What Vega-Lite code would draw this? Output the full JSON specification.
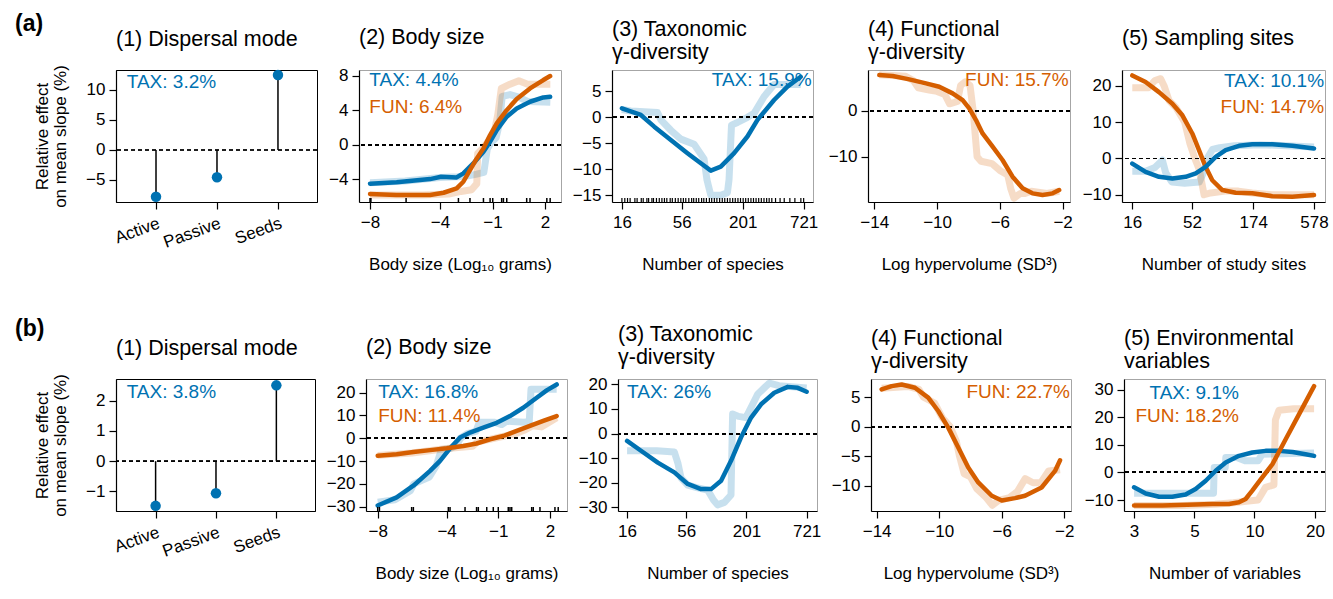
{
"$schema": "https://vega.github.io/schema/vega-lite/v6.json",
"padding": {"left": 15, "top": 13, "right": 5, "bottom": 5},
"datasets": {
"d1a": [{"x":1,"y":-7.8},{"x":2,"y":-4.55},{"x":3,"y":12.5}],
"d1b": [{"x":1,"y":-1.48},{"x":2,"y":-1.06},{"x":3,"y":2.51}],
"d2a": [
{"x":-8,"y":-4.5,"s":"TAX","t":"s"},{"x":-6.48,"y":-4.35,"s":"TAX","t":"s"},{"x":-4.57,"y":-3.97,"s":"TAX","t":"s"},{"x":-3.94,"y":-3.7,"s":"TAX","t":"s"},{"x":-3.05,"y":-3.78,"s":"TAX","t":"s"},{"x":-2.67,"y":-3.31,"s":"TAX","t":"s"},{"x":-2.1,"y":-2.16,"s":"TAX","t":"s"},{"x":-1.52,"y":-0.81,"s":"TAX","t":"s"},{"x":-1.14,"y":0.35,"s":"TAX","t":"s"},{"x":-0.76,"y":1.7,"s":"TAX","t":"s"},{"x":-0.19,"y":3.24,"s":"TAX","t":"s"},{"x":0.38,"y":4.2,"s":"TAX","t":"s"},{"x":1.14,"y":4.97,"s":"TAX","t":"s"},{"x":1.9,"y":5.47,"s":"TAX","t":"s"},{"x":2.29,"y":5.55,"s":"TAX","t":"s"},
{"x":-8,"y":-5.7,"s":"FUN","t":"s"},{"x":-6.5,"y":-5.82,"s":"FUN","t":"s"},{"x":-4.57,"y":-5.82,"s":"FUN","t":"s"},{"x":-3.8,"y":-5.55,"s":"FUN","t":"s"},{"x":-3.05,"y":-5.05,"s":"FUN","t":"s"},{"x":-2.67,"y":-4.28,"s":"FUN","t":"s"},{"x":-2.29,"y":-2.93,"s":"FUN","t":"s"},{"x":-1.9,"y":-1.58,"s":"FUN","t":"s"},{"x":-1.52,"y":-0.42,"s":"FUN","t":"s"},{"x":-1.14,"y":1.12,"s":"FUN","t":"s"},{"x":-0.76,"y":2.47,"s":"FUN","t":"s"},{"x":-0.19,"y":4.0,"s":"FUN","t":"s"},{"x":0.38,"y":5.28,"s":"FUN","t":"s"},{"x":1.14,"y":6.51,"s":"FUN","t":"s"},{"x":1.9,"y":7.48,"s":"FUN","t":"s"},{"x":2.29,"y":7.94,"s":"FUN","t":"s"},
{"x":-8,"y":-4.4,"s":"TAX","t":"r"},{"x":-6,"y":-4.2,"s":"TAX","t":"r"},{"x":-4,"y":-3.8,"s":"TAX","t":"r"},{"x":-3,"y":-3.7,"s":"TAX","t":"r"},{"x":-2.4,"y":-3.6,"s":"TAX","t":"r"},{"x":-1.9,"y":-3.4,"s":"TAX","t":"r"},{"x":-1.5,"y":-3.2,"s":"TAX","t":"r"},{"x":-1.3,"y":-0.5,"s":"TAX","t":"r"},{"x":-1.1,"y":0.2,"s":"TAX","t":"r"},{"x":-0.8,"y":0.8,"s":"TAX","t":"r"},{"x":-0.6,"y":2.5,"s":"TAX","t":"r"},{"x":-0.45,"y":5.6,"s":"TAX","t":"r"},{"x":0,"y":5.8,"s":"TAX","t":"r"},{"x":0.5,"y":5.5,"s":"TAX","t":"r"},{"x":1,"y":5.0,"s":"TAX","t":"r"},{"x":2.3,"y":4.9,"s":"TAX","t":"r"},
{"x":-8,"y":-5.8,"s":"FUN","t":"r"},{"x":-5,"y":-5.8,"s":"FUN","t":"r"},{"x":-3.5,"y":-5.7,"s":"FUN","t":"r"},{"x":-2.8,"y":-5.4,"s":"FUN","t":"r"},{"x":-2.2,"y":-5.2,"s":"FUN","t":"r"},{"x":-1.9,"y":-4.5,"s":"FUN","t":"r"},{"x":-1.85,"y":-1.0,"s":"FUN","t":"r"},{"x":-1.6,"y":-0.5,"s":"FUN","t":"r"},{"x":-1.2,"y":0.5,"s":"FUN","t":"r"},{"x":-0.9,"y":1.5,"s":"FUN","t":"r"},{"x":-0.7,"y":3.5,"s":"FUN","t":"r"},{"x":-0.5,"y":6.5,"s":"FUN","t":"r"},{"x":0,"y":7.0,"s":"FUN","t":"r"},{"x":0.5,"y":7.4,"s":"FUN","t":"r"},{"x":1.0,"y":7.0,"s":"FUN","t":"r"},{"x":2.3,"y":7.0,"s":"FUN","t":"r"}
],
"r2a": [{"x":-8},{"x":-7.95},{"x":-5.94},{"x":-2.95},{"x":-2.29},{"x":-1.52},{"x":-1.14},{"x":-0.99},{"x":-0.48},{"x":-0.38},{"x":-0.19},{"x":0.95},{"x":1.14},{"x":2.1},{"x":2.29}],
"d3a": [
{"x":16,"y":1.73,"s":"TAX","t":"s"},{"x":23.8,"y":0.45,"s":"TAX","t":"s"},{"x":31.5,"y":-1.8,"s":"TAX","t":"s"},{"x":44.6,"y":-4.36,"s":"TAX","t":"s"},{"x":63.2,"y":-6.9,"s":"TAX","t":"s"},{"x":83.6,"y":-8.85,"s":"TAX","t":"s"},{"x":103,"y":-10.26,"s":"TAX","t":"s"},{"x":127,"y":-9.5,"s":"TAX","t":"s"},{"x":168,"y":-6.9,"s":"TAX","t":"s"},{"x":222,"y":-3.7,"s":"TAX","t":"s"},{"x":274,"y":-0.5,"s":"TAX","t":"s"},{"x":388,"y":3.33,"s":"TAX","t":"s"},{"x":513,"y":5.9,"s":"TAX","t":"s"},{"x":678,"y":7.8,"s":"TAX","t":"s"},
{"x":16,"y":1.5,"s":"TAX","t":"r"},{"x":19.3,"y":1.2,"s":"TAX","t":"r"},{"x":33.8,"y":0.9,"s":"TAX","t":"r"},{"x":36.2,"y":-0.5,"s":"TAX","t":"r"},{"x":44.6,"y":-2.5,"s":"TAX","t":"r"},{"x":55,"y":-4.2,"s":"TAX","t":"r"},{"x":72.6,"y":-5.2,"s":"TAX","t":"r"},{"x":89.5,"y":-8,"s":"TAX","t":"r"},{"x":95,"y":-12,"s":"TAX","t":"r"},{"x":103,"y":-15,"s":"TAX","t":"r"},{"x":127,"y":-15,"s":"TAX","t":"r"},{"x":146,"y":-14.5,"s":"TAX","t":"r"},{"x":151,"y":-12,"s":"TAX","t":"r"},{"x":159,"y":-1.5,"s":"TAX","t":"r"},{"x":180,"y":-1,"s":"TAX","t":"r"},{"x":222,"y":0,"s":"TAX","t":"r"},{"x":256,"y":0.8,"s":"TAX","t":"r"},{"x":315,"y":4,"s":"TAX","t":"r"},{"x":388,"y":6.3,"s":"TAX","t":"r"},{"x":678,"y":6.3,"s":"TAX","t":"r"}
],
"r3a": [{"x":16},{"x":17},{"x":18},{"x":19},{"x":21},{"x":22},{"x":24},{"x":25},{"x":27},{"x":28},{"x":30},{"x":31},{"x":33},{"x":35},{"x":37},{"x":39},{"x":41},{"x":44},{"x":46},{"x":49},{"x":52},{"x":55},{"x":58},{"x":61},{"x":65},{"x":69},{"x":72},{"x":76},{"x":80},{"x":85},{"x":89},{"x":94},{"x":100},{"x":105},{"x":111},{"x":117},{"x":124},{"x":131},{"x":138},{"x":146},{"x":154},{"x":163},{"x":172},{"x":182},{"x":192},{"x":203},{"x":214},{"x":226},{"x":239},{"x":252},{"x":266},{"x":281},{"x":297},{"x":314},{"x":332},{"x":350},{"x":370},{"x":400},{"x":440},{"x":480},{"x":540},{"x":600},{"x":680},{"x":721}],
"d4a": [
{"x":-13.68,"y":7.75,"s":"FUN","t":"s"},{"x":-12.83,"y":7.54,"s":"FUN","t":"s"},{"x":-11.77,"y":6.81,"s":"FUN","t":"s"},{"x":-10.71,"y":5.94,"s":"FUN","t":"s"},{"x":-9.86,"y":5.22,"s":"FUN","t":"s"},{"x":-9.01,"y":3.77,"s":"FUN","t":"s"},{"x":-8.37,"y":2.32,"s":"FUN","t":"s"},{"x":-7.95,"y":0.51,"s":"FUN","t":"s"},{"x":-7.52,"y":-2.03,"s":"FUN","t":"s"},{"x":-7.1,"y":-4.93,"s":"FUN","t":"s"},{"x":-6.46,"y":-7.83,"s":"FUN","t":"s"},{"x":-5.83,"y":-10.72,"s":"FUN","t":"s"},{"x":-5.19,"y":-14.35,"s":"FUN","t":"s"},{"x":-4.55,"y":-16.88,"s":"FUN","t":"s"},{"x":-3.92,"y":-17.97,"s":"FUN","t":"s"},{"x":-3.28,"y":-18.33,"s":"FUN","t":"s"},{"x":-2.64,"y":-17.97,"s":"FUN","t":"s"},{"x":-2.22,"y":-17.25,"s":"FUN","t":"s"},
{"x":-13.68,"y":7.8,"s":"FUN","t":"r"},{"x":-12,"y":7.5,"s":"FUN","t":"r"},{"x":-11.5,"y":6.5,"s":"FUN","t":"r"},{"x":-11.2,"y":5,"s":"FUN","t":"r"},{"x":-10.5,"y":4.5,"s":"FUN","t":"r"},{"x":-10,"y":4.2,"s":"FUN","t":"r"},{"x":-9.5,"y":3.5,"s":"FUN","t":"r"},{"x":-9.2,"y":1.5,"s":"FUN","t":"r"},{"x":-8.7,"y":2,"s":"FUN","t":"r"},{"x":-8.5,"y":5.5,"s":"FUN","t":"r"},{"x":-8.2,"y":6.3,"s":"FUN","t":"r"},{"x":-7.9,"y":5.5,"s":"FUN","t":"r"},{"x":-7.7,"y":0,"s":"FUN","t":"r"},{"x":-7.45,"y":-10,"s":"FUN","t":"r"},{"x":-7.2,"y":-11,"s":"FUN","t":"r"},{"x":-6.5,"y":-11.5,"s":"FUN","t":"r"},{"x":-6,"y":-13,"s":"FUN","t":"r"},{"x":-5.5,"y":-14,"s":"FUN","t":"r"},{"x":-5.3,"y":-17,"s":"FUN","t":"r"},{"x":-5.1,"y":-19,"s":"FUN","t":"r"},{"x":-4.7,"y":-18,"s":"FUN","t":"r"},{"x":-4.4,"y":-18,"s":"FUN","t":"r"},{"x":-4,"y":-17.5,"s":"FUN","t":"r"},{"x":-3,"y":-18,"s":"FUN","t":"r"},{"x":-2.22,"y":-17.5,"s":"FUN","t":"r"}
],
"d5a": [
{"x":16,"y":22.9,"s":"FUN","t":"s"},{"x":20.8,"y":21.1,"s":"FUN","t":"s"},{"x":27.1,"y":18.3,"s":"FUN","t":"s"},{"x":35.3,"y":15.1,"s":"FUN","t":"s"},{"x":43,"y":11.9,"s":"FUN","t":"s"},{"x":52.3,"y":6.9,"s":"FUN","t":"s"},{"x":59.7,"y":2.3,"s":"FUN","t":"s"},{"x":68,"y":-2.3,"s":"FUN","t":"s"},{"x":77.6,"y":-6,"s":"FUN","t":"s"},{"x":94.6,"y":-8.7,"s":"FUN","t":"s"},{"x":123,"y":-9.45,"s":"FUN","t":"s"},{"x":171,"y":-9.6,"s":"FUN","t":"s"},{"x":254,"y":-10.4,"s":"FUN","t":"s"},{"x":377,"y":-10.55,"s":"FUN","t":"s"},{"x":578,"y":-10.1,"s":"FUN","t":"s"},
{"x":16,"y":-1.4,"s":"TAX","t":"s"},{"x":20.8,"y":-3.7,"s":"TAX","t":"s"},{"x":27.1,"y":-5.05,"s":"TAX","t":"s"},{"x":35.3,"y":-5.5,"s":"TAX","t":"s"},{"x":45.9,"y":-5.05,"s":"TAX","t":"s"},{"x":56,"y":-4.1,"s":"TAX","t":"s"},{"x":68,"y":-2.3,"s":"TAX","t":"s"},{"x":83,"y":0.46,"s":"TAX","t":"s"},{"x":101,"y":2.3,"s":"TAX","t":"s"},{"x":131.6,"y":3.5,"s":"TAX","t":"s"},{"x":171,"y":3.95,"s":"TAX","t":"s"},{"x":254,"y":3.95,"s":"TAX","t":"s"},{"x":377,"y":3.5,"s":"TAX","t":"s"},{"x":578,"y":2.75,"s":"TAX","t":"s"},
{"x":16,"y":-3.5,"s":"TAX","t":"r"},{"x":20.8,"y":-3.5,"s":"TAX","t":"r"},{"x":25,"y":-2.5,"s":"TAX","t":"r"},{"x":29,"y":-0.5,"s":"TAX","t":"r"},{"x":31,"y":-4,"s":"TAX","t":"r"},{"x":35,"y":-6.5,"s":"TAX","t":"r"},{"x":45,"y":-6.8,"s":"TAX","t":"r"},{"x":60,"y":-6.5,"s":"TAX","t":"r"},{"x":66,"y":-3.5,"s":"TAX","t":"r"},{"x":70,"y":0,"s":"TAX","t":"r"},{"x":78,"y":2.5,"s":"TAX","t":"r"},{"x":90,"y":3,"s":"TAX","t":"r"},{"x":120,"y":3.5,"s":"TAX","t":"r"},{"x":200,"y":3.8,"s":"TAX","t":"r"},{"x":578,"y":3.2,"s":"TAX","t":"r"},
{"x":16,"y":19.5,"s":"FUN","t":"r"},{"x":22,"y":19.5,"s":"FUN","t":"r"},{"x":25,"y":21.5,"s":"FUN","t":"r"},{"x":28,"y":22,"s":"FUN","t":"r"},{"x":30,"y":20,"s":"FUN","t":"r"},{"x":33,"y":16,"s":"FUN","t":"r"},{"x":38,"y":14,"s":"FUN","t":"r"},{"x":45,"y":10,"s":"FUN","t":"r"},{"x":50,"y":4,"s":"FUN","t":"r"},{"x":55,"y":0,"s":"FUN","t":"r"},{"x":60,"y":-3,"s":"FUN","t":"r"},{"x":66,"y":-10,"s":"FUN","t":"r"},{"x":75,"y":-9.5,"s":"FUN","t":"r"},{"x":100,"y":-9,"s":"FUN","t":"r"},{"x":130,"y":-9,"s":"FUN","t":"r"},{"x":170,"y":-9.5,"s":"FUN","t":"r"},{"x":250,"y":-10,"s":"FUN","t":"r"},{"x":578,"y":-10,"s":"FUN","t":"r"}
],
"d2b": [
{"x":-8,"y":-29.5,"s":"TAX","t":"s"},{"x":-6.9,"y":-25.9,"s":"TAX","t":"s"},{"x":-5.93,"y":-20.8,"s":"TAX","t":"s"},{"x":-4.96,"y":-14.3,"s":"TAX","t":"s"},{"x":-4.38,"y":-9.9,"s":"TAX","t":"s"},{"x":-3.8,"y":-4.4,"s":"TAX","t":"s"},{"x":-3.22,"y":0.3,"s":"TAX","t":"s"},{"x":-2.64,"y":2.5,"s":"TAX","t":"s"},{"x":-1.87,"y":4.7,"s":"TAX","t":"s"},{"x":-1.09,"y":6.8,"s":"TAX","t":"s"},{"x":-0.32,"y":9.75,"s":"TAX","t":"s"},{"x":0.45,"y":13.4,"s":"TAX","t":"s"},{"x":1.23,"y":17.8,"s":"TAX","t":"s"},{"x":1.81,"y":21,"s":"TAX","t":"s"},{"x":2.39,"y":23.6,"s":"TAX","t":"s"},
{"x":-8,"y":-7.7,"s":"FUN","t":"s"},{"x":-6.9,"y":-7,"s":"FUN","t":"s"},{"x":-5.93,"y":-6,"s":"FUN","t":"s"},{"x":-4.96,"y":-5.2,"s":"FUN","t":"s"},{"x":-3.99,"y":-4.4,"s":"FUN","t":"s"},{"x":-3.03,"y":-3.35,"s":"FUN","t":"s"},{"x":-2.26,"y":-2.3,"s":"FUN","t":"s"},{"x":-1.48,"y":-0.44,"s":"FUN","t":"s"},{"x":-0.71,"y":1.0,"s":"FUN","t":"s"},{"x":0.07,"y":3.2,"s":"FUN","t":"s"},{"x":0.84,"y":5.4,"s":"FUN","t":"s"},{"x":1.61,"y":7.6,"s":"FUN","t":"s"},{"x":2.39,"y":9.75,"s":"FUN","t":"s"},
{"x":-8,"y":-28,"s":"TAX","t":"r"},{"x":-7,"y":-27,"s":"TAX","t":"r"},{"x":-6.1,"y":-23,"s":"TAX","t":"r"},{"x":-5.9,"y":-20,"s":"TAX","t":"r"},{"x":-5,"y":-17,"s":"TAX","t":"r"},{"x":-4.6,"y":-12,"s":"TAX","t":"r"},{"x":-4.3,"y":-5,"s":"TAX","t":"r"},{"x":-3.8,"y":-4.5,"s":"TAX","t":"r"},{"x":-3.4,"y":-3,"s":"TAX","t":"r"},{"x":-3.2,"y":0,"s":"TAX","t":"r"},{"x":-2.8,"y":2,"s":"TAX","t":"r"},{"x":-2.3,"y":3,"s":"TAX","t":"r"},{"x":-2.1,"y":7,"s":"TAX","t":"r"},{"x":-1.2,"y":7,"s":"TAX","t":"r"},{"x":-0.8,"y":6,"s":"TAX","t":"r"},{"x":-0.5,"y":7.5,"s":"TAX","t":"r"},{"x":0.5,"y":7,"s":"TAX","t":"r"},{"x":0.8,"y":7.5,"s":"TAX","t":"r"},{"x":0.9,"y":21.5,"s":"TAX","t":"r"},{"x":2.39,"y":21.5,"s":"TAX","t":"r"},
{"x":-8,"y":-7.5,"s":"FUN","t":"r"},{"x":-6,"y":-6.5,"s":"FUN","t":"r"},{"x":-4,"y":-4.5,"s":"FUN","t":"r"},{"x":-2.5,"y":-3.5,"s":"FUN","t":"r"},{"x":-2.2,"y":-1.5,"s":"FUN","t":"r"},{"x":-1.5,"y":-0.5,"s":"FUN","t":"r"},{"x":0,"y":2,"s":"FUN","t":"r"},{"x":0.5,"y":3.5,"s":"FUN","t":"r"},{"x":1,"y":5.5,"s":"FUN","t":"r"},{"x":1.5,"y":5,"s":"FUN","t":"r"},{"x":2.39,"y":9,"s":"FUN","t":"r"}
],
"r2b": [{"x":-8},{"x":-7.9},{"x":-6.03},{"x":-5.93},{"x":-3.9},{"x":-3.8},{"x":-2.93},{"x":-2.26},{"x":-2.16},{"x":-1.67},{"x":-1.29},{"x":-1.0},{"x":-0.42},{"x":-0.32},{"x":-0.22},{"x":0.94},{"x":1.03},{"x":1.42},{"x":2.29},{"x":2.48}],
"d3b": [
{"x":16,"y":-3,"s":"TAX","t":"s"},{"x":21.5,"y":-7,"s":"TAX","t":"s"},{"x":30.7,"y":-11.8,"s":"TAX","t":"s"},{"x":43.6,"y":-15.8,"s":"TAX","t":"s"},{"x":57.9,"y":-20.5,"s":"TAX","t":"s"},{"x":76.8,"y":-22.6,"s":"TAX","t":"s"},{"x":95,"y":-22.6,"s":"TAX","t":"s"},{"x":117.5,"y":-19.2,"s":"TAX","t":"s"},{"x":145,"y":-11.1,"s":"TAX","t":"s"},{"x":179,"y":-1.6,"s":"TAX","t":"s"},{"x":222,"y":6.5,"s":"TAX","t":"s"},{"x":274,"y":11.9,"s":"TAX","t":"s"},{"x":363,"y":16.6,"s":"TAX","t":"s"},{"x":483,"y":19,"s":"TAX","t":"s"},{"x":597,"y":18.6,"s":"TAX","t":"s"},{"x":721,"y":17,"s":"TAX","t":"s"},
{"x":16,"y":-7,"s":"TAX","t":"r"},{"x":30,"y":-7,"s":"TAX","t":"r"},{"x":43.6,"y":-7.5,"s":"TAX","t":"r"},{"x":47,"y":-12,"s":"TAX","t":"r"},{"x":50.2,"y":-18,"s":"TAX","t":"r"},{"x":57.9,"y":-21,"s":"TAX","t":"r"},{"x":70,"y":-22,"s":"TAX","t":"r"},{"x":88.5,"y":-23,"s":"TAX","t":"r"},{"x":100,"y":-27,"s":"TAX","t":"r"},{"x":109,"y":-29,"s":"TAX","t":"r"},{"x":126,"y":-28,"s":"TAX","t":"r"},{"x":145,"y":-25,"s":"TAX","t":"r"},{"x":150,"y":8,"s":"TAX","t":"r"},{"x":170,"y":7,"s":"TAX","t":"r"},{"x":199,"y":6.5,"s":"TAX","t":"r"},{"x":230,"y":12,"s":"TAX","t":"r"},{"x":255,"y":16,"s":"TAX","t":"r"},{"x":300,"y":19,"s":"TAX","t":"r"},{"x":327,"y":20.5,"s":"TAX","t":"r"},{"x":400,"y":19.5,"s":"TAX","t":"r"},{"x":721,"y":18.5,"s":"TAX","t":"r"}
],
"d4b": [
{"x":-13.68,"y":6.3,"s":"FUN","t":"s"},{"x":-13.04,"y":6.85,"s":"FUN","t":"s"},{"x":-12.4,"y":7.13,"s":"FUN","t":"s"},{"x":-11.55,"y":6.57,"s":"FUN","t":"s"},{"x":-10.7,"y":4.9,"s":"FUN","t":"s"},{"x":-10.06,"y":2.64,"s":"FUN","t":"s"},{"x":-9.42,"y":-0.17,"s":"FUN","t":"s"},{"x":-8.78,"y":-3.54,"s":"FUN","t":"s"},{"x":-8.14,"y":-6.9,"s":"FUN","t":"s"},{"x":-7.5,"y":-9.44,"s":"FUN","t":"s"},{"x":-6.64,"y":-11.7,"s":"FUN","t":"s"},{"x":-6.0,"y":-12.5,"s":"FUN","t":"s"},{"x":-5.15,"y":-12.1,"s":"FUN","t":"s"},{"x":-4.51,"y":-11.7,"s":"FUN","t":"s"},{"x":-3.45,"y":-10.3,"s":"FUN","t":"s"},{"x":-2.59,"y":-7.5,"s":"FUN","t":"s"},{"x":-2.27,"y":-5.7,"s":"FUN","t":"s"},
{"x":-13.68,"y":6.5,"s":"FUN","t":"r"},{"x":-12,"y":6.8,"s":"FUN","t":"r"},{"x":-11.3,"y":6.3,"s":"FUN","t":"r"},{"x":-11,"y":5,"s":"FUN","t":"r"},{"x":-10.3,"y":4,"s":"FUN","t":"r"},{"x":-9.8,"y":1.5,"s":"FUN","t":"r"},{"x":-9.3,"y":0,"s":"FUN","t":"r"},{"x":-8.9,"y":-2.5,"s":"FUN","t":"r"},{"x":-8.7,"y":-5,"s":"FUN","t":"r"},{"x":-8.4,"y":-8,"s":"FUN","t":"r"},{"x":-8,"y":-8.5,"s":"FUN","t":"r"},{"x":-7.6,"y":-10.5,"s":"FUN","t":"r"},{"x":-7,"y":-12,"s":"FUN","t":"r"},{"x":-6.6,"y":-13.3,"s":"FUN","t":"r"},{"x":-6.2,"y":-12.5,"s":"FUN","t":"r"},{"x":-5.5,"y":-12,"s":"FUN","t":"r"},{"x":-5,"y":-11,"s":"FUN","t":"r"},{"x":-4.5,"y":-8.8,"s":"FUN","t":"r"},{"x":-4,"y":-9.5,"s":"FUN","t":"r"},{"x":-3.5,"y":-9.5,"s":"FUN","t":"r"},{"x":-3,"y":-7.5,"s":"FUN","t":"r"},{"x":-2.27,"y":-7.3,"s":"FUN","t":"r"}
],
"d5b": [
{"x":3,"y":-5.4,"s":"TAX","t":"s"},{"x":3.39,"y":-7.6,"s":"TAX","t":"s"},{"x":3.9,"y":-8.8,"s":"TAX","t":"s"},{"x":4.48,"y":-8.8,"s":"TAX","t":"s"},{"x":5.15,"y":-8,"s":"TAX","t":"s"},{"x":5.72,"y":-6,"s":"TAX","t":"s"},{"x":6.36,"y":-3,"s":"TAX","t":"s"},{"x":7.06,"y":0.6,"s":"TAX","t":"s"},{"x":7.84,"y":3.6,"s":"TAX","t":"s"},{"x":9.01,"y":6,"s":"TAX","t":"s"},{"x":10.36,"y":7.2,"s":"TAX","t":"s"},{"x":11.9,"y":7.8,"s":"TAX","t":"s"},{"x":13.7,"y":7.8,"s":"TAX","t":"s"},{"x":15.8,"y":7.4,"s":"TAX","t":"s"},{"x":18.1,"y":6.6,"s":"TAX","t":"s"},{"x":19.8,"y":6,"s":"TAX","t":"s"},
{"x":3,"y":-12,"s":"FUN","t":"s"},{"x":4.04,"y":-12,"s":"FUN","t":"s"},{"x":5.72,"y":-11.6,"s":"FUN","t":"s"},{"x":6.81,"y":-11.4,"s":"FUN","t":"s"},{"x":8.11,"y":-11.4,"s":"FUN","t":"s"},{"x":9.01,"y":-10.8,"s":"FUN","t":"s"},{"x":9.66,"y":-9.6,"s":"FUN","t":"s"},{"x":10.36,"y":-6.6,"s":"FUN","t":"s"},{"x":11.5,"y":-1.8,"s":"FUN","t":"s"},{"x":12.8,"y":3,"s":"FUN","t":"s"},{"x":14.7,"y":12,"s":"FUN","t":"s"},{"x":16.9,"y":21,"s":"FUN","t":"s"},{"x":19.8,"y":31.2,"s":"FUN","t":"s"},
{"x":3,"y":-7.5,"s":"TAX","t":"r"},{"x":4,"y":-7.5,"s":"TAX","t":"r"},{"x":5,"y":-7.5,"s":"TAX","t":"r"},{"x":6,"y":-7.5,"s":"TAX","t":"r"},{"x":6.9,"y":-7.5,"s":"TAX","t":"r"},{"x":6.95,"y":1.8,"s":"TAX","t":"r"},{"x":7.8,"y":1.8,"s":"TAX","t":"r"},{"x":7.85,"y":5.4,"s":"TAX","t":"r"},{"x":8.8,"y":5.4,"s":"TAX","t":"r"},{"x":9.6,"y":4.2,"s":"TAX","t":"r"},{"x":11,"y":4.2,"s":"TAX","t":"r"},{"x":11.5,"y":6.6,"s":"TAX","t":"r"},{"x":19.8,"y":7,"s":"TAX","t":"r"},
{"x":3,"y":-12,"s":"FUN","t":"r"},{"x":5,"y":-12,"s":"FUN","t":"r"},{"x":7,"y":-11.5,"s":"FUN","t":"r"},{"x":8.5,"y":-11,"s":"FUN","t":"r"},{"x":9.5,"y":-10.5,"s":"FUN","t":"r"},{"x":11,"y":-10,"s":"FUN","t":"r"},{"x":11.9,"y":-5.4,"s":"FUN","t":"r"},{"x":13.0,"y":-4.5,"s":"FUN","t":"r"},{"x":13.2,"y":19,"s":"FUN","t":"r"},{"x":13.7,"y":22.5,"s":"FUN","t":"r"},{"x":16,"y":23,"s":"FUN","t":"r"},{"x":19.8,"y":23,"s":"FUN","t":"r"}
]
},
"spacing": 45,
"vconcat": [
{
"title": {"text": "(a)", "anchor": "start", "frame": "bounds", "fontSize": 23, "fontWeight": "bold", "baseline": "middle", "offset": -29, "dx": -18},
"spacing": 8,
"hconcat": [
{
"width": 201, "height": 132,
"title": {"text": "(1) Dispersal mode", "offset": 14},
"view": {"stroke": "black"},
"data": {"name": "d1a"},
"layer": [
{"mark": {"type": "rule", "strokeDash": [4, 3], "color": "black", "strokeWidth": 1.2}, "encoding": {"y": {"datum": 0, "scale": {"domain": [-8.67, 13.33], "nice": false, "zero": false}, "axis": {"values": [-5, 0, 5, 10], "tickCount": 12, "format": "d", "title": ["Relative effect", "on mean slope (%)"], "titlePadding": 16, "titleLineHeight": 18}}}},
{"mark": {"type": "rule", "color": "black", "strokeWidth": 1.5}, "encoding": {"x": {"field": "x", "type": "quantitative", "scale": {"domain": [0.344, 3.64], "nice": false, "zero": false}, "axis": {"values": [1, 2, 3], "tickCount": 12, "labelExpr": "datum.value == 1 ? 'Active' : datum.value == 2 ? 'Passive' : 'Seeds'", "labelAngle": -20, "labelAlign": "right", "labelBaseline": "top", "labelPadding": 6, "title": null}}, "y": {"field": "y", "type": "quantitative"}, "y2": {"datum": 0}}},
{"mark": {"type": "point", "filled": true, "size": 110, "color": "#0072B2", "opacity": 1}, "encoding": {"x": {"field": "x", "type": "quantitative"}, "y": {"field": "y", "type": "quantitative"}}},
{"data": {"values": [{}]}, "mark": {"type": "text", "align": "left", "baseline": "middle", "fontSize": 19, "color": "#0072B2"}, "encoding": {"x": {"datum": 0.52}, "y": {"datum": 11.33}, "text": {"value": "TAX: 3.2%"}}}
]
},
{
"width": 202, "height": 132,
"title": {"text": "(2) Body size", "offset": 18.5},
"data": {"name": "d2a"},
"layer": [
{"transform": [{"filter": "datum.t == 'r'"}], "mark": {"type": "line", "strokeWidth": 7, "opacity": 0.22, "strokeCap": "butt", "strokeJoin": "round"}, "encoding": {"x": {"field": "x", "type": "quantitative", "scale": {"domain": [-8.63, 2.91], "nice": false, "zero": false}, "axis": {"values": [-8, -4, -1, 2], "tickCount": 12, "format": "d", "title": "Body size (Log₁₀ grams)"}}, "y": {"field": "y", "type": "quantitative", "scale": {"domain": [-6.62, 8.64], "nice": false, "zero": false}, "axis": {"values": [-4, 0, 4, 8], "tickCount": 12, "format": "d", "minExtent": 31, "maxExtent": 31, "title": null}}, "color": {"field": "s", "type": "nominal", "scale": {"domain": ["TAX", "FUN"], "range": ["#0072B2", "#D55E00"]}, "legend": null}}},
{"mark": {"type": "rule", "strokeDash": [4, 3], "color": "black", "strokeWidth": 1.2}, "encoding": {"y": {"datum": 0}}},
{"transform": [{"filter": "datum.t == 's'"}], "mark": {"type": "line", "strokeWidth": 4.5, "strokeCap": "round", "strokeJoin": "round"}, "encoding": {"x": {"field": "x", "type": "quantitative"}, "y": {"field": "y", "type": "quantitative"}, "color": {"field": "s", "type": "nominal"}}},
{"data": {"name": "r2a"}, "mark": {"type": "rule", "color": "black", "strokeWidth": 1.5}, "encoding": {"x": {"field": "x", "type": "quantitative"}, "y": {"datum": -6.62}, "y2": {"datum": -6.16}}},
{"data": {"values": [{}]}, "mark": {"type": "text", "align": "left", "baseline": "middle", "fontSize": 19, "color": "#0072B2"}, "encoding": {"x": {"datum": -8.04}, "y": {"datum": 7.48}, "text": {"value": "TAX: 4.4%"}}},
{"data": {"values": [{}]}, "mark": {"type": "text", "align": "left", "baseline": "middle", "fontSize": 19, "color": "#D55E00"}, "encoding": {"x": {"datum": -8.04}, "y": {"datum": 4.39}, "text": {"value": "FUN: 6.4%"}}}
]
},
{
"width": 201, "height": 132,
"title": {"text": ["(3) Taxonomic", "\u00a0γ-diversity"], "offset": 7},
"data": {"name": "d3a"},
"layer": [
{"transform": [{"filter": "datum.t == 'r'"}], "mark": {"type": "line", "strokeWidth": 7, "opacity": 0.22, "strokeCap": "butt", "strokeJoin": "round"}, "encoding": {"x": {"field": "x", "type": "quantitative", "scale": {"type": "log", "domain": [13, 877], "nice": false, "zero": false}, "axis": {"values": [16, 56, 201, 721], "tickCount": 12, "labelExpr": "format(datum.value, 'd')", "title": "Number of species"}}, "y": {"field": "y", "type": "quantitative", "scale": {"domain": [-16.3, 9.1], "nice": false, "zero": false}, "axis": {"values": [-15, -10, -5, 0, 5], "tickCount": 12, "format": "d", "minExtent": 40, "maxExtent": 40, "title": null}}, "color": {"field": "s", "type": "nominal", "scale": {"domain": ["TAX", "FUN"], "range": ["#0072B2", "#D55E00"]}, "legend": null}}},
{"mark": {"type": "rule", "strokeDash": [4, 3], "color": "black", "strokeWidth": 1.2}, "encoding": {"y": {"datum": 0}}},
{"transform": [{"filter": "datum.t == 's'"}], "mark": {"type": "line", "strokeWidth": 4.5, "strokeCap": "round", "strokeJoin": "round"}, "encoding": {"x": {"field": "x", "type": "quantitative"}, "y": {"field": "y", "type": "quantitative"}, "color": {"field": "s", "type": "nominal"}}},
{"data": {"name": "r3a"}, "mark": {"type": "rule", "color": "black", "strokeWidth": 1.2}, "encoding": {"x": {"field": "x", "type": "quantitative"}, "y": {"datum": -16.3}, "y2": {"datum": -15.53}}},
{"data": {"values": [{}]}, "mark": {"type": "text", "align": "right", "baseline": "middle", "fontSize": 19, "color": "#0072B2"}, "encoding": {"x": {"datum": 853}, "y": {"datum": 7.17}, "text": {"value": "TAX: 15.9%"}}}
]
},
{
"width": 202, "height": 132,
"title": {"text": ["(4) Functional", "\u00a0γ-diversity"], "offset": 7},
"data": {"name": "d4a"},
"layer": [
{"transform": [{"filter": "datum.t == 'r'"}], "mark": {"type": "line", "strokeWidth": 7, "opacity": 0.22, "strokeCap": "butt", "strokeJoin": "round"}, "encoding": {"x": {"field": "x", "type": "quantitative", "scale": {"domain": [-14.4, -1.53], "nice": false, "zero": false}, "axis": {"values": [-14, -10, -6, -2], "tickCount": 12, "format": "d", "title": "Log hypervolume (SD³)"}}, "y": {"field": "y", "type": "quantitative", "scale": {"domain": [-19.85, 8.85], "nice": false, "zero": false}, "axis": {"values": [-10, 0], "tickCount": 12, "format": "d", "minExtent": 35, "maxExtent": 35, "title": null}}, "color": {"field": "s", "type": "nominal", "scale": {"domain": ["TAX", "FUN"], "range": ["#0072B2", "#D55E00"]}, "legend": null}}},
{"mark": {"type": "rule", "strokeDash": [4, 3], "color": "black", "strokeWidth": 1.2}, "encoding": {"y": {"datum": 0}}},
{"transform": [{"filter": "datum.t == 's'"}], "mark": {"type": "line", "strokeWidth": 4.5, "strokeCap": "round", "strokeJoin": "round"}, "encoding": {"x": {"field": "x", "type": "quantitative"}, "y": {"field": "y", "type": "quantitative"}, "color": {"field": "s", "type": "nominal"}}},
{"data": {"values": [{}]}, "mark": {"type": "text", "align": "right", "baseline": "middle", "fontSize": 19, "color": "#D55E00"}, "encoding": {"x": {"datum": -1.62}, "y": {"datum": 6.67}, "text": {"value": "FUN: 15.7%"}}}
]
},
{
"width": 203, "height": 132,
"title": {"text": "(5) Sampling sites", "offset": 21},
"data": {"name": "d5a"},
"layer": [
{"transform": [{"filter": "datum.t == 'r'"}], "mark": {"type": "line", "strokeWidth": 7, "opacity": 0.22, "strokeCap": "butt", "strokeJoin": "round"}, "encoding": {"x": {"field": "x", "type": "quantitative", "scale": {"type": "log", "domain": [13.06, 718], "nice": false, "zero": false}, "axis": {"values": [16, 52, 174, 578], "tickCount": 12, "labelExpr": "format(datum.value, 'd')", "title": "Number of study sites"}}, "y": {"field": "y", "type": "quantitative", "scale": {"domain": [-12, 24.4], "nice": false, "zero": false}, "axis": {"values": [-10, 0, 10, 20], "tickCount": 12, "format": "d", "minExtent": 36.5, "maxExtent": 36.5, "title": null}}, "color": {"field": "s", "type": "nominal", "scale": {"domain": ["TAX", "FUN"], "range": ["#0072B2", "#D55E00"]}, "legend": null}}},
{"mark": {"type": "rule", "strokeDash": [4, 3], "color": "black", "strokeWidth": 1.2}, "encoding": {"y": {"datum": 0}}},
{"transform": [{"filter": "datum.t == 's'"}], "mark": {"type": "line", "strokeWidth": 4.5, "strokeCap": "round", "strokeJoin": "round"}, "encoding": {"x": {"field": "x", "type": "quantitative"}, "y": {"field": "y", "type": "quantitative"}, "color": {"field": "s", "type": "nominal"}}},
{"data": {"values": [{}]}, "mark": {"type": "text", "align": "right", "baseline": "middle", "fontSize": 19, "color": "#0072B2"}, "encoding": {"x": {"datum": 705}, "y": {"datum": 21.3}, "text": {"value": "TAX: 10.1%"}}},
{"data": {"values": [{}]}, "mark": {"type": "text", "align": "right", "baseline": "middle", "fontSize": 19, "color": "#D55E00"}, "encoding": {"x": {"datum": 705}, "y": {"datum": 14.2}, "text": {"value": "FUN: 14.7%"}}}
]
}
]
},
{
"title": {"text": "(b)", "anchor": "start", "frame": "bounds", "fontSize": 23, "fontWeight": "bold", "baseline": "middle", "offset": -29, "dx": -18},
"spacing": 8,
"hconcat": [
{
"width": 199, "height": 132,
"title": {"text": "(1) Dispersal mode", "offset": 14},
"view": {"stroke": "black"},
"data": {"name": "d1b"},
"layer": [
{"mark": {"type": "rule", "strokeDash": [4, 3], "color": "black", "strokeWidth": 1.2}, "encoding": {"y": {"datum": 0, "scale": {"domain": [-1.65, 2.72], "nice": false, "zero": false}, "axis": {"values": [-1, 0, 1, 2], "tickCount": 12, "format": "d", "title": ["Relative effect", "on mean slope (%)"], "titlePadding": 16, "titleLineHeight": 18}}}},
{"mark": {"type": "rule", "color": "black", "strokeWidth": 1.5}, "encoding": {"x": {"field": "x", "type": "quantitative", "scale": {"domain": [0.344, 3.64], "nice": false, "zero": false}, "axis": {"values": [1, 2, 3], "tickCount": 12, "labelExpr": "datum.value == 1 ? 'Active' : datum.value == 2 ? 'Passive' : 'Seeds'", "labelAngle": -20, "labelAlign": "right", "labelBaseline": "top", "labelPadding": 6, "title": null}}, "y": {"field": "y", "type": "quantitative"}, "y2": {"datum": 0}}},
{"mark": {"type": "point", "filled": true, "size": 110, "color": "#0072B2", "opacity": 1}, "encoding": {"x": {"field": "x", "type": "quantitative"}, "y": {"field": "y", "type": "quantitative"}}},
{"data": {"values": [{}]}, "mark": {"type": "text", "align": "left", "baseline": "middle", "fontSize": 19, "color": "#0072B2"}, "encoding": {"x": {"datum": 0.52}, "y": {"datum": 2.28}, "text": {"value": "TAX: 3.8%"}}}
]
},
{
"width": 201, "height": 132,
"title": {"text": "(2) Body size", "offset": 21},
"data": {"name": "d2b"},
"layer": [
{"transform": [{"filter": "datum.t == 'r'"}], "mark": {"type": "line", "strokeWidth": 7, "opacity": 0.22, "strokeCap": "butt", "strokeJoin": "round"}, "encoding": {"x": {"field": "x", "type": "quantitative", "scale": {"domain": [-8.68, 2.99], "nice": false, "zero": false}, "axis": {"values": [-8, -4, -1, 2], "tickCount": 12, "format": "d", "title": "Body size (Log₁₀ grams)"}}, "y": {"field": "y", "type": "quantitative", "scale": {"domain": [-31.9, 26], "nice": false, "zero": false}, "axis": {"values": [-30, -20, -10, 0, 10, 20], "tickCount": 12, "format": "d", "minExtent": 40, "maxExtent": 40, "title": null}}, "color": {"field": "s", "type": "nominal", "scale": {"domain": ["TAX", "FUN"], "range": ["#0072B2", "#D55E00"]}, "legend": null}}},
{"mark": {"type": "rule", "strokeDash": [4, 3], "color": "black", "strokeWidth": 1.2}, "encoding": {"y": {"datum": 0}}},
{"transform": [{"filter": "datum.t == 's'"}], "mark": {"type": "line", "strokeWidth": 4.5, "strokeCap": "round", "strokeJoin": "round"}, "encoding": {"x": {"field": "x", "type": "quantitative"}, "y": {"field": "y", "type": "quantitative"}, "color": {"field": "s", "type": "nominal"}}},
{"data": {"name": "r2b"}, "mark": {"type": "rule", "color": "black", "strokeWidth": 1.5}, "encoding": {"x": {"field": "x", "type": "quantitative"}, "y": {"datum": -31.9}, "y2": {"datum": -30.15}}},
{"data": {"values": [{}]}, "mark": {"type": "text", "align": "left", "baseline": "middle", "fontSize": 19, "color": "#0072B2"}, "encoding": {"x": {"datum": -7.97}, "y": {"datum": 20.4}, "text": {"value": "TAX: 16.8%"}}},
{"data": {"values": [{}]}, "mark": {"type": "text", "align": "left", "baseline": "middle", "fontSize": 19, "color": "#D55E00"}, "encoding": {"x": {"datum": -7.97}, "y": {"datum": 9.7}, "text": {"value": "FUN: 11.4%"}}}
]
},
{
"width": 199, "height": 132,
"title": {"text": ["(3) Taxonomic", "\u00a0γ-diversity"], "offset": 7},
"data": {"name": "d3b"},
"layer": [
{"transform": [{"filter": "datum.t == 'r'"}], "mark": {"type": "line", "strokeWidth": 7, "opacity": 0.22, "strokeCap": "butt", "strokeJoin": "round"}, "encoding": {"x": {"field": "x", "type": "quantitative", "scale": {"type": "log", "domain": [13.2, 898], "nice": false, "zero": false}, "axis": {"values": [16, 56, 201, 721], "tickCount": 12, "labelExpr": "format(datum.value, 'd')", "title": "Number of species"}}, "y": {"field": "y", "type": "quantitative", "scale": {"domain": [-31.5, 22.2], "nice": false, "zero": false}, "axis": {"values": [-30, -20, -10, 0, 10, 20], "tickCount": 12, "format": "d", "minExtent": 40, "maxExtent": 40, "title": null}}, "color": {"field": "s", "type": "nominal", "scale": {"domain": ["TAX", "FUN"], "range": ["#0072B2", "#D55E00"]}, "legend": null}}},
{"mark": {"type": "rule", "strokeDash": [4, 3], "color": "black", "strokeWidth": 1.2}, "encoding": {"y": {"datum": 0}}},
{"transform": [{"filter": "datum.t == 's'"}], "mark": {"type": "line", "strokeWidth": 4.5, "strokeCap": "round", "strokeJoin": "round"}, "encoding": {"x": {"field": "x", "type": "quantitative"}, "y": {"field": "y", "type": "quantitative"}, "color": {"field": "s", "type": "nominal"}}},
{"data": {"values": [{}]}, "mark": {"type": "text", "align": "left", "baseline": "middle", "fontSize": 19, "color": "#0072B2"}, "encoding": {"x": {"datum": 16}, "y": {"datum": 17}, "text": {"value": "TAX: 26%"}}}
]
},
{
"width": 200, "height": 132,
"title": {"text": ["(4) Functional", "\u00a0γ-diversity"], "offset": 7},
"data": {"name": "d4b"},
"layer": [
{"transform": [{"filter": "datum.t == 'r'"}], "mark": {"type": "line", "strokeWidth": 7, "opacity": 0.22, "strokeCap": "butt", "strokeJoin": "round"}, "encoding": {"x": {"field": "x", "type": "quantitative", "scale": {"domain": [-14.36, -1.57], "nice": false, "zero": false}, "axis": {"values": [-14, -10, -6, -2], "tickCount": 12, "format": "d", "title": "Log hypervolume (SD³)"}}, "y": {"field": "y", "type": "quantitative", "scale": {"domain": [-14.28, 8.06], "nice": false, "zero": false}, "axis": {"values": [-10, -5, 0, 5], "tickCount": 12, "format": "d", "minExtent": 36, "maxExtent": 36, "title": null}}, "color": {"field": "s", "type": "nominal", "scale": {"domain": ["TAX", "FUN"], "range": ["#0072B2", "#D55E00"]}, "legend": null}}},
{"mark": {"type": "rule", "strokeDash": [4, 3], "color": "black", "strokeWidth": 1.2}, "encoding": {"y": {"datum": 0}}},
{"transform": [{"filter": "datum.t == 's'"}], "mark": {"type": "line", "strokeWidth": 4.5, "strokeCap": "round", "strokeJoin": "round"}, "encoding": {"x": {"field": "x", "type": "quantitative"}, "y": {"field": "y", "type": "quantitative"}, "color": {"field": "s", "type": "nominal"}}},
{"data": {"values": [{}]}, "mark": {"type": "text", "align": "right", "baseline": "middle", "fontSize": 19, "color": "#D55E00"}, "encoding": {"x": {"datum": -1.64}, "y": {"datum": 5.9}, "text": {"value": "FUN: 22.7%"}}}
]
},
{
"width": 201, "height": 132,
"title": {"text": ["(5) Environmental", "\u00a0variables"], "offset": 7},
"data": {"name": "d5b"},
"layer": [
{"transform": [{"filter": "datum.t == 'r'"}], "mark": {"type": "line", "strokeWidth": 7, "opacity": 0.22, "strokeCap": "butt", "strokeJoin": "round"}, "encoding": {"x": {"field": "x", "type": "quantitative", "scale": {"type": "log", "domain": [2.7, 22.2], "nice": false, "zero": false}, "axis": {"values": [3, 5.65, 10.6, 20], "tickCount": 12, "labelExpr": "format(floor(datum.value), 'd')", "title": "Number of variables"}}, "y": {"field": "y", "type": "quantitative", "scale": {"domain": [-13.95, 33.8], "nice": false, "zero": false}, "axis": {"values": [-10, 0, 10, 20, 30], "tickCount": 12, "format": "d", "minExtent": 36, "maxExtent": 36, "title": null}}, "color": {"field": "s", "type": "nominal", "scale": {"domain": ["TAX", "FUN"], "range": ["#0072B2", "#D55E00"]}, "legend": null}}},
{"mark": {"type": "rule", "strokeDash": [4, 3], "color": "black", "strokeWidth": 1.2}, "encoding": {"y": {"datum": 0}}},
{"transform": [{"filter": "datum.t == 's'"}], "mark": {"type": "line", "strokeWidth": 4.5, "strokeCap": "round", "strokeJoin": "round"}, "encoding": {"x": {"field": "x", "type": "quantitative"}, "y": {"field": "y", "type": "quantitative"}, "color": {"field": "s", "type": "nominal"}}},
{"data": {"values": [{}]}, "mark": {"type": "text", "align": "right", "baseline": "middle", "fontSize": 19, "color": "#0072B2"}, "encoding": {"x": {"datum": 9.0}, "y": {"datum": 28.6}, "text": {"value": "TAX: 9.1%"}}},
{"data": {"values": [{}]}, "mark": {"type": "text", "align": "right", "baseline": "middle", "fontSize": 19, "color": "#D55E00"}, "encoding": {"x": {"datum": 9.0}, "y": {"datum": 20.4}, "text": {"value": "FUN: 18.2%"}}}
]
}
]
}
],
"config": {
"font": "Liberation Sans",
"view": {"stroke": "#a6a6a6", "strokeWidth": 1},
"axis": {"grid": false, "domainColor": "black", "tickColor": "black", "labelColor": "black", "titleColor": "black", "labelFont": "Liberation Sans", "titleFont": "Liberation Sans", "labelFontSize": 17, "titleFontSize": 17, "titleFontWeight": "normal", "tickSize": 7, "labelPadding": 5, "domainWidth": 1.2, "tickWidth": 1.2, "labelFlush": false, "labelOverlap": false},
"axisX": {"titlePadding": 26},
"axisY": {"labelPadding": 4},
"title": {"font": "Liberation Sans", "fontSize": 21.5, "fontWeight": "normal", "anchor": "start", "frame": "group", "color": "black", "baseline": "middle", "lineHeight": 23}
}
}
